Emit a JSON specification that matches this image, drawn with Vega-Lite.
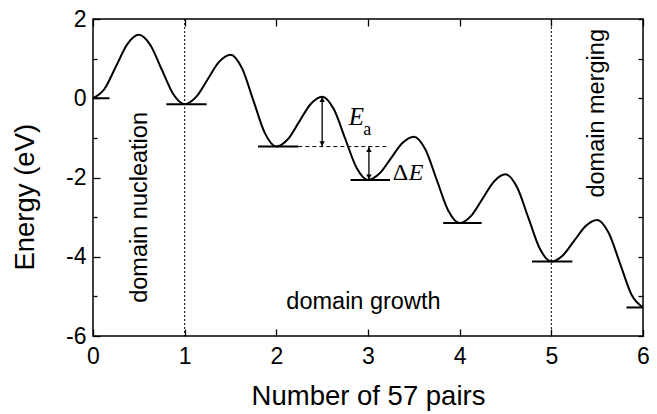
{
  "$schema": "https://vega.github.io/schema/vega-lite/v6.json",
  "width": 550,
  "height": 317,
  "autosize": {"type": "none"},
  "padding": {"left": 93, "top": 19, "right": 14, "bottom": 78},
  "background": "white",
  "config": {
    "view": {"stroke": "#000", "strokeWidth": 1.5},
    "axis": {
      "domain": false, "grid": false, "tickColor": "#000", "tickWidth": 1.3,
      "labelColor": "#000", "titleColor": "#000",
      "labelFont": "Liberation Sans", "labelFontSize": 23,
      "titleFont": "Liberation Sans", "titleFontSize": 27.5, "titleFontWeight": "normal",
      "labelOverlap": false, "labelFlush": false
    }
  },
  "datasets": {
    "curve": [
      {"x": 0, "e": 0}, {"x": 0.125, "e": 0.234}, {"x": 0.25, "e": 0.8}, {"x": 0.375, "e": 1.366},
      {"x": 0.5, "e": 1.6}, {"x": 0.625, "e": 1.344}, {"x": 0.75, "e": 0.725}, {"x": 0.875, "e": 0.106},
      {"x": 1, "e": -0.15}, {"x": 1.125, "e": 0.033}, {"x": 1.25, "e": 0.475}, {"x": 1.375, "e": 0.917},
      {"x": 1.5, "e": 1.1}, {"x": 1.625, "e": 0.761}, {"x": 1.75, "e": -0.06}, {"x": 1.875, "e": -0.881},
      {"x": 2, "e": -1.22}, {"x": 2.125, "e": -1.036}, {"x": 2.25, "e": -0.59}, {"x": 2.375, "e": -0.144},
      {"x": 2.5, "e": 0.04}, {"x": 2.625, "e": -0.267}, {"x": 2.75, "e": -1.01}, {"x": 2.875, "e": -1.753},
      {"x": 3, "e": -2.06}, {"x": 3.125, "e": -1.901}, {"x": 3.25, "e": -1.515}, {"x": 3.375, "e": -1.129},
      {"x": 3.5, "e": -0.97}, {"x": 3.625, "e": -1.288}, {"x": 3.75, "e": -2.06}, {"x": 3.875, "e": -2.831},
      {"x": 4, "e": -3.15}, {"x": 4.125, "e": -2.97}, {"x": 4.25, "e": -2.535}, {"x": 4.375, "e": -2.1},
      {"x": 4.5, "e": -1.92}, {"x": 4.625, "e": -2.241}, {"x": 4.75, "e": -3.02}, {"x": 4.875, "e": -3.799},
      {"x": 5, "e": -4.12}, {"x": 5.125, "e": -3.967}, {"x": 5.25, "e": -3.595}, {"x": 5.375, "e": -3.223},
      {"x": 5.5, "e": -3.07}, {"x": 5.625, "e": -3.393}, {"x": 5.75, "e": -4.175}, {"x": 5.875, "e": -4.957},
      {"x": 6, "e": -5.28}
    ],
    "levels": [
      {"x": 0, "x2": 0.18, "e": 0}, {"x": 0.8, "x2": 1.24, "e": -0.15},
      {"x": 1.8, "x2": 2.24, "e": -1.22}, {"x": 2.81, "x2": 3.24, "e": -2.06},
      {"x": 3.82, "x2": 4.24, "e": -3.15}, {"x": 4.79, "x2": 5.23, "e": -4.12},
      {"x": 5.82, "x2": 6, "e": -5.28}
    ],
    "dashed": [{"x": 2.24, "x2": 3.23, "e": -1.22}],
    "vlines": [{"x": 1}, {"x": 5}],
    "arrows": [{"x": 2.5, "e": 0.04, "e2": -1.22}, {"x": 3.01, "e": -1.22, "e2": -2.06}],
    "headsUp": [{"x": 2.5, "e": 0.04}, {"x": 3.01, "e": -1.22}],
    "headsDown": [{"x": 2.5, "e": -1.22}, {"x": 3.01, "e": -2.06}],
    "vtext": [
      {"x": 0.586, "e": -2.755, "t": "domain nucleation"},
      {"x": 5.57, "e": -0.38, "t": "domain merging"}
    ],
    "htext": [{"x": 2.95, "e": -5.306, "t": "domain growth"}],
    "italicA": [{"x": 2.79, "e": -0.677, "t": "E"}],
    "italicB": [{"x": 3.445, "e": -2.066, "t": "E"}],
    "upright": [{"x": 2.949, "e": -0.93, "t": "a"}],
    "delta": [{"x": 3.27, "e": -2.066, "t": "Δ"}]
  },
  "resolve": {
    "scale": {"x": "shared", "y": "shared"},
    "axis": {"x": "independent", "y": "independent"}
  },
  "layer": [
    {
      "data": {"name": "curve"},
      "mark": {"type": "line", "color": "#000", "strokeWidth": 2, "interpolate": "monotone"},
      "encoding": {
        "x": {"field": "x", "type": "quantitative",
          "scale": {"domain": [0, 6], "nice": false, "zero": false},
          "axis": {"orient": "bottom", "values": [0, 1, 2, 3, 4, 5, 6], "labelExpr": "'' + datum.value",
            "tickSize": -7, "labelPadding": 16, "title": "Number of 57 pairs",
            "titleX": 275, "titleY": 68, "titleAlign": "center", "titleBaseline": "alphabetic"}},
        "y": {"field": "e", "type": "quantitative",
          "scale": {"domain": [-6, 2], "nice": false, "zero": false},
          "axis": {"orient": "left", "values": [-6, -4, -2, 0, 2], "labelExpr": "'' + datum.value",
            "tickSize": -7, "labelPadding": 14, "title": "Energy (eV)",
            "titleAngle": 270, "titleX": -60, "titleY": 177.7, "titleAlign": "center", "titleBaseline": "alphabetic"}}
      }
    },
    {
      "data": {"name": "levels"},
      "mark": {"type": "rule", "color": "#000", "strokeWidth": 2},
      "encoding": {
        "x": {"field": "x", "type": "quantitative",
          "axis": {"orient": "top", "values": [0, 1, 2, 3, 4, 5, 6], "labels": false, "tickSize": -7, "title": null}},
        "x2": {"field": "x2"},
        "y": {"field": "e", "type": "quantitative",
          "axis": {"orient": "right", "values": [-6, -5, -4, -3, -2, -1, 0, 1, 2], "labels": false, "tickSize": -5, "title": null}}
      }
    },
    {
      "data": {"name": "dashed"},
      "mark": {"type": "rule", "color": "#000", "strokeWidth": 1, "strokeDash": [4, 3]},
      "encoding": {
        "x": {"field": "x", "type": "quantitative", "axis": null},
        "x2": {"field": "x2"},
        "y": {"field": "e", "type": "quantitative",
          "axis": {"orient": "left", "values": [-5, -3, -1, 1], "labels": false, "tickSize": -4, "title": null}}
      }
    },
    {
      "data": {"name": "vlines"},
      "mark": {"type": "rule", "color": "#000", "strokeWidth": 1, "strokeDash": [2, 2]},
      "encoding": {
        "x": {"field": "x", "type": "quantitative", "axis": null}
      }
    },
    {
      "data": {"name": "arrows"},
      "mark": {"type": "rule", "color": "#000", "strokeWidth": 1.3},
      "encoding": {
        "x": {"field": "x", "type": "quantitative", "axis": null},
        "y": {"field": "e", "type": "quantitative", "axis": null},
        "y2": {"field": "e2"}
      }
    },
    {
      "data": {"name": "headsUp"},
      "mark": {"type": "point", "shape": "triangle-up", "filled": true, "color": "#000", "size": 30, "opacity": 1, "yOffset": 3},
      "encoding": {
        "x": {"field": "x", "type": "quantitative", "axis": null},
        "y": {"field": "e", "type": "quantitative", "axis": null}
      }
    },
    {
      "data": {"name": "headsDown"},
      "mark": {"type": "point", "shape": "triangle-down", "filled": true, "color": "#000", "size": 30, "opacity": 1, "yOffset": -3},
      "encoding": {
        "x": {"field": "x", "type": "quantitative", "axis": null},
        "y": {"field": "e", "type": "quantitative", "axis": null}
      }
    },
    {
      "data": {"name": "vtext"},
      "mark": {"type": "text", "angle": 270, "align": "center", "baseline": "alphabetic", "font": "Liberation Sans", "fontSize": 23.5, "color": "#000"},
      "encoding": {
        "x": {"field": "x", "type": "quantitative", "axis": null},
        "y": {"field": "e", "type": "quantitative", "axis": null},
        "text": {"field": "t"}
      }
    },
    {
      "data": {"name": "htext"},
      "mark": {"type": "text", "align": "center", "baseline": "alphabetic", "font": "Liberation Sans", "fontSize": 23.5, "color": "#000"},
      "encoding": {
        "x": {"field": "x", "type": "quantitative", "axis": null},
        "y": {"field": "e", "type": "quantitative", "axis": null},
        "text": {"field": "t"}
      }
    },
    {
      "data": {"name": "italicA"},
      "mark": {"type": "text", "align": "left", "baseline": "alphabetic", "font": "Liberation Serif", "fontStyle": "italic", "fontSize": 25, "color": "#000"},
      "encoding": {
        "x": {"field": "x", "type": "quantitative", "axis": null},
        "y": {"field": "e", "type": "quantitative", "axis": null},
        "text": {"field": "t"}
      }
    },
    {
      "data": {"name": "italicB"},
      "mark": {"type": "text", "align": "left", "baseline": "alphabetic", "font": "Liberation Serif", "fontStyle": "italic", "fontSize": 24, "color": "#000"},
      "encoding": {
        "x": {"field": "x", "type": "quantitative", "axis": null},
        "y": {"field": "e", "type": "quantitative", "axis": null},
        "text": {"field": "t"}
      }
    },
    {
      "data": {"name": "upright"},
      "mark": {"type": "text", "align": "left", "baseline": "alphabetic", "font": "Liberation Serif", "fontSize": 18, "color": "#000"},
      "encoding": {
        "x": {"field": "x", "type": "quantitative", "axis": null},
        "y": {"field": "e", "type": "quantitative", "axis": null},
        "text": {"field": "t"}
      }
    },
    {
      "data": {"name": "delta"},
      "mark": {"type": "text", "align": "left", "baseline": "alphabetic", "font": "Liberation Serif", "fontSize": 24, "color": "#000"},
      "encoding": {
        "x": {"field": "x", "type": "quantitative", "axis": null},
        "y": {"field": "e", "type": "quantitative", "axis": null},
        "text": {"field": "t"}
      }
    }
  ]
}
